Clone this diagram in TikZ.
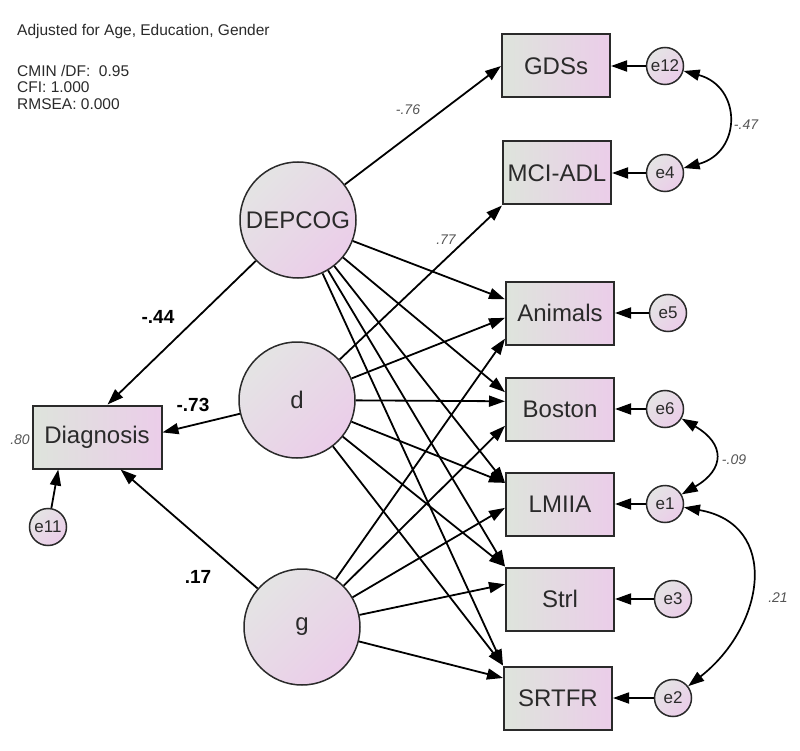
\documentclass[tikz,border=0pt]{standalone}
\usepackage{fontspec}
\setmainfont{Liberation Sans}
\usetikzlibrary{arrows.meta}
\definecolor{linecol}{HTML}{2A2A2A}
\definecolor{leftfill}{HTML}{DEE4DC}
\definecolor{rightfill}{HTML}{EBCDE9}
\definecolor{topfill}{HTML}{E4E4E4}
\definecolor{estcol}{HTML}{555555}
\tikzset{
	obs/.style={draw=linecol, line width=2pt, left color=leftfill, right color=rightfill, minimum width=108pt, minimum height=63pt, inner sep=0pt, text=linecol, font=\fontsize{24}{24}\selectfont},
	lat/.style={circle, draw=linecol, line width=1.5pt, top color=topfill, bottom color=rightfill, shading angle=45, minimum size=116pt, inner sep=0pt, text=linecol, font=\fontsize{24}{24}\selectfont},
	err/.style={circle, draw=linecol, line width=1.5pt, top color=topfill, bottom color=rightfill, shading angle=45, minimum size=37pt, inner sep=0pt, text=linecol, font=\fontsize{17}{17}\selectfont},
	arr/.style={-{Triangle[length=16pt,width=11pt]}, line width=1.8pt},
	cov/.style={{Triangle[length=16pt,width=11pt]}-{Triangle[length=16pt,width=11pt]}, line width=1.7pt},
	est/.style={inner sep=0pt, text=estcol, font=\fontsize{14}{14}\selectfont\itshape},
	coef/.style={inner sep=0pt, font=\fontsize{19}{19}\selectfont\bfseries},
	note/.style={anchor=west, align=left, inner sep=0pt, text=linecol, font=\fontsize{15.5}{16.5}\selectfont}
}

\begin{document}
\begin{tikzpicture}[x=1pt,y=1pt]
		\useasboundingbox (0,0) rectangle (800,-751);
		\node[note] (adj) at (17,-31) {Adjusted for Age, Education, Gender};
		\node[note] (fit) at (17,-87) {CMIN /DF:\ \ 0.95\\CFI: 1.000\\RMSEA: 0.000};
		
		\node[obs] (gds) at (556,-66) {GDSs};
		\node[obs] (mci) at (557,-173) {MCI-ADL};
		\node[obs] (ani) at (560,-313) {Animals};
		\node[obs] (bos) at (560,-409) {Boston};
		\node[obs] (lm) at (560,-504) {LMIIA};
		\node[obs] (str) at (560,-599) {Strl};
		\node[obs] (srt) at (558,-698) {SRTFR};
		\node[obs, minimum width=129pt] (diag) at (97,-437) {Diagnosis};
		
		\node[lat] (dep) at (298,-220) {DEPCOG};
		\node[lat] (d) at (297,-400) {d};
		\node[lat] (g) at (302,-627) {g};
		
		\node[err] (e12) at (665,-66) {e12};
		\node[err] (e4) at (665,-173) {e4};
		\node[err] (e5) at (668,-313) {e5};
		\node[err] (e6) at (665,-409) {e6};
		\node[err] (e1) at (665,-504) {e1};
		\node[err] (e3) at (673,-599) {e3};
		\node[err] (e2) at (673,-698) {e2};
		\node[err] (e11) at (48,-527) {e11};
		
		\draw[arr] (dep) -- (gds.west);
		\draw[arr] (dep) -- (ani.166);
		\draw[arr] (dep) -- (bos.163);
		\draw[arr] (dep) -- (lm.159);
		\draw[arr] (dep) -- (str.north west);
		\draw[arr] (dep) -- (srt.north west);
		\draw[arr] (dep) -- (diag.72);
		
		\draw[arr] (d) -- (mci.south west);
		\draw[arr] (d) -- (ani.185);
		\draw[arr] (d) -- (bos.172);
		\draw[arr] (d) -- (lm.159);
		\draw[arr] (d) -- (str.north west);
		\draw[arr] (d) -- (srt.north west);
		\draw[arr] (d) -- (diag.4);
		
		\draw[arr] (g) -- (ani.205);
		\draw[arr] (g) -- (bos.197);
		\draw[arr] (g) -- (lm.184);
		\draw[arr] (g) -- (str.165);
		\draw[arr] (g) -- (srt.160);
		\draw[arr] (g) -- (diag.306);
		
		\draw[arr] (e12) -- (gds);
		\draw[arr] (e4) -- (mci);
		\draw[arr] (e5) -- (ani);
		\draw[arr] (e6) -- (bos);
		\draw[arr] (e1) -- (lm);
		\draw[arr] (e3) -- (str);
		\draw[arr] (e2) -- (srt);
		\draw[arr] (e11) -- (diag.220);
		
		\draw[cov] (e12) to[out=-15, in=15, looseness=1.6] (e4);
		\draw[cov] (e6) to[out=-30, in=30, looseness=1.7] (e1);
		\draw[cov] (e1) to[out=-10, in=38, looseness=1.4] (e2);
		
		\node[est] (l76) at (408,-110) {-.76};
		\node[est] (l77) at (446,-240) {.77};
		\node[est] (l80) at (20,-440) {.80};
		\node[est] (l47) at (746,-125) {-.47};
		\node[est] (l09) at (734,-460) {-.09};
		\node[est] (l21) at (778,-598) {.21};
		\node[coef] (l44) at (158,-317) {-.44};
		\node[coef] (l73) at (193,-405) {-.73};
		\node[coef] (l17) at (198,-577) {.17};
	\end{tikzpicture}
\end{document}
